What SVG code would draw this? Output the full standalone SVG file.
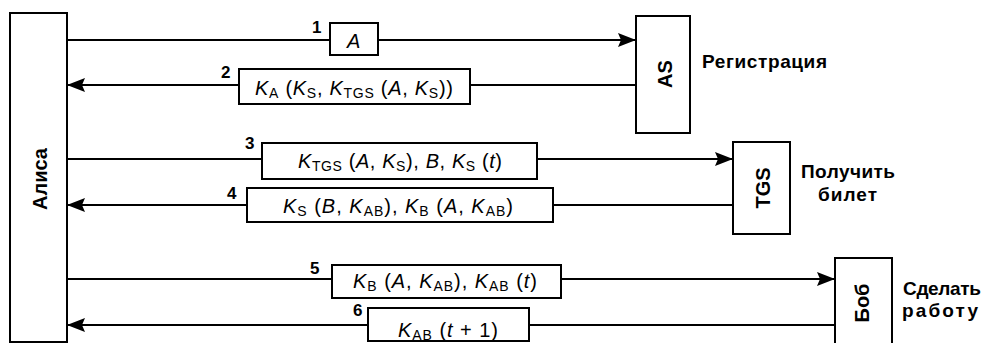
<svg xmlns="http://www.w3.org/2000/svg" width="983" height="343" viewBox="0 0 983 343">
<style>
text{font-family:"Liberation Sans",Arial,sans-serif;fill:#000}
.node{fill:#fff;stroke:#000;stroke-width:2}
.lbl{font-size:19px;font-weight:bold}
.rot{font-size:20px;font-weight:bold}
.nm{font-size:17px;font-weight:bold}
.msg{font-size:20px}
.i{font-style:italic}
.s{font-size:14px}
.conn line{stroke:#000;stroke-width:2}
.mbox{fill:#fff;stroke:#000;stroke-width:2}
</style>
<defs>
<marker id="ah" markerUnits="userSpaceOnUse" markerWidth="18" markerHeight="14" refX="18" refY="7" orient="auto">
<path d="M0,0 L18,7 L0,14 L3,7 z" fill="#000"/>
</marker>
</defs>

<g id="alice">
<rect class="node" x="10" y="13" width="57" height="329"/>
<text class="rot" transform="translate(47,179) rotate(-90)" text-anchor="middle" textLength="62">Алиса</text>
</g>

<g id="as">
<rect class="node" x="636" y="16" width="54" height="117"/>
<text class="rot" transform="translate(672,74) rotate(-90)" text-anchor="middle">AS</text>
<text class="lbl" x="702" y="68" textLength="125">Регистрация</text>
</g>

<g id="tgs">
<rect class="node" x="733" y="142" width="57" height="92"/>
<text class="rot" transform="translate(770,188) rotate(-90)" text-anchor="middle">TGS</text>
<text class="lbl" x="801" y="178" textLength="94">Получить</text>
<text class="lbl" x="818" y="201" textLength="59">билет</text>
</g>

<g id="bob">
<rect class="node" x="835" y="258" width="57" height="90"/>
<text class="rot" transform="translate(869,303) rotate(-90)" text-anchor="middle" font-size="18">Боб</text>
<text class="lbl" x="903" y="295" textLength="78">Сделать</text>
<text class="lbl" x="902" y="317" textLength="76">работу</text>
</g>

<g id="connectors" class="conn">
<line x1="67" y1="40" x2="636" y2="40" marker-end="url(#ah)"/>
<line x1="636" y1="85" x2="67" y2="85" marker-end="url(#ah)" stroke-width="2.5"/>
<line x1="67" y1="159" x2="733" y2="159" marker-end="url(#ah)"/>
<line x1="733" y1="205" x2="67" y2="205" marker-end="url(#ah)" stroke-width="2.5"/>
<line x1="67" y1="279" x2="835" y2="279" marker-end="url(#ah)"/>
<line x1="835" y1="325" x2="67" y2="325" marker-end="url(#ah)" stroke-width="2.5"/>

<g id="m1">
<text class="nm" x="312" y="33">1</text>
<rect class="mbox" x="330" y="23" width="48" height="32"/>
<text class="msg i" x="347" y="48">A</text>
</g>
<g id="m2">
<text class="nm" x="221" y="78">2</text>
<rect class="mbox" x="239" y="69" width="231" height="35"/>
<text class="msg" x="255" y="95" textLength="198"><tspan class="i">K</tspan><tspan class="s" dy="3">A</tspan><tspan dy="-3"> (</tspan><tspan class="i">K</tspan><tspan class="s" dy="3">S</tspan><tspan dy="-3">, </tspan><tspan class="i">K</tspan><tspan class="s" dy="3">TGS</tspan><tspan dy="-3"> (</tspan><tspan class="i">A</tspan><tspan>, </tspan><tspan class="i">K</tspan><tspan class="s" dy="3">S</tspan><tspan dy="-3">))</tspan></text>
</g>
<g id="m3">
<text class="nm" x="245" y="149">3</text>
<rect class="mbox" x="262" y="143" width="275" height="36"/>
<text class="msg" x="298" y="168" textLength="204"><tspan class="i">K</tspan><tspan class="s" dy="3">TGS</tspan><tspan dy="-3"> (</tspan><tspan class="i">A</tspan><tspan>, </tspan><tspan class="i">K</tspan><tspan class="s" dy="3">S</tspan><tspan dy="-3">), </tspan><tspan class="i">B</tspan><tspan>, </tspan><tspan class="i">K</tspan><tspan class="s" dy="3">S</tspan><tspan dy="-3"> (</tspan><tspan class="i">t</tspan><tspan>)</tspan></text>
</g>
<g id="m4">
<text class="nm" x="227" y="199">4</text>
<rect class="mbox" x="247" y="188" width="306" height="34"/>
<text class="msg" x="283" y="213" textLength="230"><tspan class="i">K</tspan><tspan class="s" dy="3">S</tspan><tspan dy="-3"> (</tspan><tspan class="i">B</tspan><tspan>, </tspan><tspan class="i">K</tspan><tspan class="s" dy="3">AB</tspan><tspan dy="-3">), </tspan><tspan class="i">K</tspan><tspan class="s" dy="3">B</tspan><tspan dy="-3"> (</tspan><tspan class="i">A</tspan><tspan>, </tspan><tspan class="i">K</tspan><tspan class="s" dy="3">AB</tspan><tspan dy="-3">)</tspan></text>
</g>
<g id="m5">
<text class="nm" x="310" y="274">5</text>
<rect class="mbox" x="332" y="265" width="229" height="33"/>
<text class="msg" x="353" y="288" textLength="184"><tspan class="i">K</tspan><tspan class="s" dy="3">B</tspan><tspan dy="-3"> (</tspan><tspan class="i">A</tspan><tspan>, </tspan><tspan class="i">K</tspan><tspan class="s" dy="3">AB</tspan><tspan dy="-3">), </tspan><tspan class="i">K</tspan><tspan class="s" dy="3">AB</tspan><tspan dy="-3"> (</tspan><tspan class="i">t</tspan><tspan>)</tspan></text>
</g>
<g id="m6">
<text class="nm" x="353" y="316">6</text>
<rect class="mbox" x="368" y="308" width="161" height="33"/>
<text class="msg" x="398" y="337" textLength="100"><tspan class="i">K</tspan><tspan class="s" dy="3">AB</tspan><tspan dy="-3"> (</tspan><tspan class="i">t</tspan><tspan> + 1)</tspan></text>
</g>
</g>
</svg>
